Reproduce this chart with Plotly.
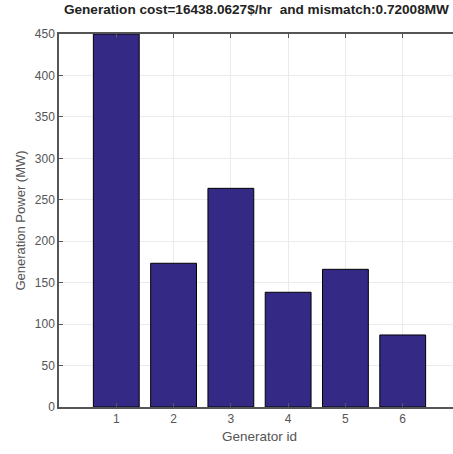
import plotly.graph_objects as go

generator_ids = [1, 2, 3, 4, 5, 6]
power_mw = [450, 173.4, 263.8, 138.4, 166.1, 86.9]
y_ticks = [0, 50, 100, 150, 200, 250, 300, 350, 400, 450]
title_text = "Generation cost=16438.0627$/hr  and mismatch:0.72008MW"

FONT = "Liberation Sans, Arial"

fig = go.Figure(go.Bar(
    x=generator_ids, y=power_mw, width=0.8,
    marker=dict(color="rgb(52,42,134)", line=dict(color="black", width=1)),
))

axis_common = dict(showline=True, linecolor="#555555", linewidth=1.5, mirror="ticks",
                   ticks="inside", ticklen=4, tickcolor="#555555",
                   showgrid=True, gridcolor="#ebebeb", gridwidth=1,
                   tickfont=dict(family=FONT, size=12, color="#555555"),
                   zeroline=False)

fig.update_layout(
    width=462, height=454,
    margin=dict(l=59, r=0, t=34, b=47),
    paper_bgcolor="white", plot_bgcolor="white",
    title=dict(text="<b>" + title_text + "</b>", x=0.555, xanchor="center", y=0.99, yanchor="top",
               font=dict(family=FONT, size=13.6, color="#222222")),
    xaxis=dict(range=[0, 7], tickvals=generator_ids,
               title=dict(text="Generator id", standoff=6,
                          font=dict(family=FONT, size=13.5, color="#555555")),
               **axis_common),
    yaxis=dict(range=[0, 450], tickvals=y_ticks,
               title=dict(text="Generation Power (MW)", standoff=6,
                          font=dict(family=FONT, size=13, color="#555555")),
               **axis_common),
    showlegend=False,
)

fig.write_html("out.html", config={"displayModeBar": False},
               post_script="document.body.style.margin='0';document.body.style.overflow='hidden';")
